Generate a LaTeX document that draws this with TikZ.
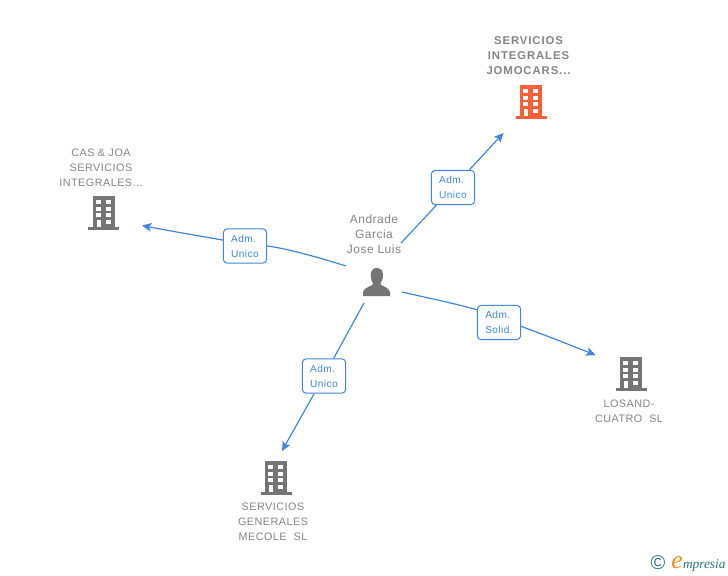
\documentclass[tikz,border=0pt]{standalone}
\usepackage{fontspec}
\setmainfont{Liberation Sans}
\newfontfamily\logofont{Liberation Serif}
\usetikzlibrary{arrows.meta}
\definecolor{txtgray}{HTML}{858585}
\definecolor{bldgray}{HTML}{757575}
\definecolor{bldorange}{HTML}{FF5F36}
\definecolor{linkblue}{HTML}{4285DF}
\definecolor{logoteal}{HTML}{2E6F85}
\definecolor{logoorange}{HTML}{F08A1D}
\newcommand{\bldg}[3]{%
  \begin{scope}[shift={(#1,#2)}]
    \fill[#3] (-11,0) rectangle (11,31);
    \fill[#3] (-15.5,31) rectangle (15.5,34);
    \foreach \cx in {-8,2} \foreach \ry in {4,10.7,17.3} \fill[white] (\cx,\ry) rectangle ++(5,4);
    \fill[white] (2,24) rectangle ++(5,4);
    \fill[white] (-7,24) rectangle ++(4,7);
  \end{scope}}
\tikzset{
  x=0.75pt,y=-0.75pt,
  caption/.style={font=\fontsize{8.1}{11.2}\selectfont\addfontfeature{LetterSpace=4.5},text=txtgray,align=center,inner sep=0pt},
  persontext/.style={font=\fontsize{9}{11.2}\selectfont\addfontfeature{LetterSpace=4},text=txtgray,align=center,inner sep=0pt},
  captionb/.style={font=\fontsize{8.5}{11.2}\selectfont\bfseries\addfontfeature{LetterSpace=8},text=txtgray,align=center,inner sep=0pt},
  rolebox/.style={draw=linkblue,line width=0.75pt,rounded corners=3pt,fill=white,text=linkblue,
    font=\fontsize{7.6}{11.2}\selectfont\addfontfeature{LetterSpace=4},align=left,minimum width=32.5pt,minimum height=25.8pt,inner sep=0pt},
  link/.style={draw=linkblue,line width=0.9pt},
  arrowed/.style={-{Stealth[length=7pt,width=6.5pt,inset=1.5pt]}},
}
\begin{document}
\begin{tikzpicture}
\useasboundingbox (0,0) rectangle (728,575);
% buildings
\bldg{103.5}{196}{bldgray}
\bldg{531}{85}{bldorange}
\bldg{631}{357}{bldgray}
\bldg{276}{461}{bldgray}
% person
\fill[bldgray] (376.7,268) .. controls (372.5,268) and (370.7,271) .. (370.7,275)
  .. controls (370.7,279) and (372,282) .. (373.2,284)
  .. controls (373,286) and (364,287) .. (363,292) -- (363,296) -- (390,296) -- (390,292)
  .. controls (389,287) and (380.5,286) .. (380.3,284)
  .. controls (381.5,282) and (383,279) .. (383,275)
  .. controls (383,271) and (381,268) .. (376.7,268) -- cycle;
% captions
\node[captionb] (top) at (528.5,55.5) {SERVICIOS\\INTEGRALES\\JOMOCARS...};
\node[caption] (cas) at (101,167.5) {CAS \& JOA\\SERVICIOS\\INTEGRALES...};
\node[persontext] (per) at (374,234) {Andrade\\Garcia\\Jose Luis};
\node[caption] (los) at (629,411) {LOSAND-\\CUATRO\ \ SL};
\node[caption] (mec) at (273,521.5) {SERVICIOS\\GENERALES\\MECOLE\ \ SL};
% connector ends
\coordinate (p1) at (401,243);
\coordinate (e1) at (503.5,133);
\coordinate (p2) at (346,266);
\coordinate (e2) at (142,225.5);
\coordinate (p3) at (364,303);
\coordinate (e3) at (282,451);
\coordinate (p4) at (402,292);
\coordinate (e4) at (595.5,355);
% role boxes
\node[rolebox] (r1) at (453,187.5) {Adm.\\Unico};
\node[rolebox] (r2) at (245,246) {Adm.\\Unico};
\node[rolebox] (r3) at (324,376) {Adm.\\Unico};
\node[rolebox] (r4) at (499,322.5) {Adm.\\Solid.};
% connectors
\draw[link] (p1) -- (r1);
\draw[link,arrowed] (r1) -- (e1);
\draw[link] (p2) .. controls (320,258) and (290,249) .. (r2.east);
\draw[link,arrowed] (r2.165) .. controls (200,236) and (170,231) .. (e2);
\draw[link] (p3) -- (r3);
\draw[link,arrowed] (r3) -- (e3);
\draw[link] (p4) .. controls (428,298) and (453,303) .. (r4.150);
\draw[link,arrowed] (r4.-10) .. controls (545,335) and (570,345) .. (e4);
% logo
\node[inner sep=0pt,text=logoteal,font=\fontsize{15}{15}\selectfont] (cr) at (658,563) {©};
\node[inner sep=0pt,anchor=base west,text=logoorange,font=\logofont\itshape\fontsize{19}{19}\selectfont] (le) at (671,568) {e};
\node[inner sep=0pt,anchor=base west,text=logoteal,font=\logofont\itshape\fontsize{10}{10}\selectfont] (lm) at (le.base east) {mpresia};
\end{tikzpicture}
\end{document}
